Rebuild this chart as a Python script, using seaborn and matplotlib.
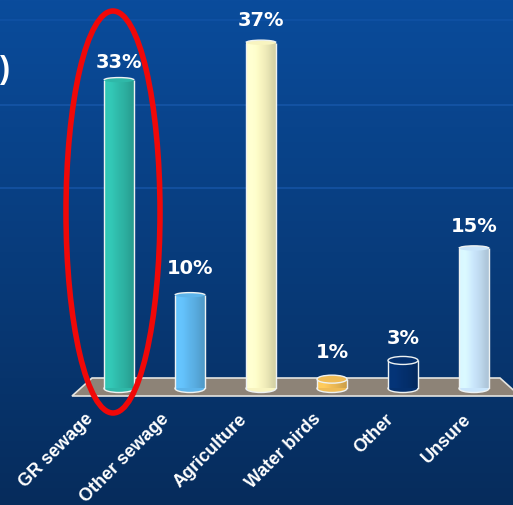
from matplotlib.patches import Arc, Ellipse, Polygon
from matplotlib.transforms import ScaledTranslation
import matplotlib.pyplot as plt
import numpy as np
import pandas as pd
import seaborn as sns

categories = ["GR sewage", "Other sewage", "Agriculture", "Water birds", "Other", "Unsure"]
percent = [33, 10, 37, 1, 3, 15]
bar_colors = ["#2fb8a8", "#5db4ea", "#f8f4c0", "#efbb55", "#04306e", "#c9e5fb"]

W, H = 513, 505
BASE = 388.5    # pixel row of the zero line
PX_PER_PCT = 9.35
FIRST_X, STEP = 119, 71

sns.set_style("white")
plt.rcParams["font.family"] = ["Liberation Sans", "DejaVu Sans"]

fig = plt.figure(figsize=(W / 100, H / 100), dpi=100)

# Background, in pixel coordinates.
bg = fig.add_axes([0, 0, 1, 1], zorder=0)
top = np.array([10, 76, 156]) / 255
bottom = np.array([6, 44, 92]) / 255
t = np.linspace(0, 1, 256)[:, None, None]
bg.imshow(top * (1 - t) + bottom * t, extent=[0, W, H, 0], aspect="auto")
for y, a in [(20, 0.35), (105, 0.6), (188, 0.6)]:
  bg.axhline(y, color="#1f62bb", lw=1.1, alpha=a)
bg.add_patch(Polygon([(72, 396), (92, 378), (500, 378), (520, 396)],
                     facecolor="#8d8377", edgecolor="#e4e4e0", lw=1.2))
bg.text(5, 70, ")", color="white", fontsize=22, fontweight="bold", va="center", ha="center")
bg.set_xlim(0, W)
bg.set_ylim(H, 0)
bg.axis("off")

# Chart proper.
ax = fig.add_axes([0, (H - BASE) / H, 1, BASE / H], zorder=1)
ax.patch.set_alpha(0)
df = pd.DataFrame({"source": categories, "percent": percent})
sns.barplot(data=df, x="source", y="percent", hue="source", order=categories,
            palette=bar_colors, width=30 / STEP, legend=False, saturation=1, ax=ax)

cap = 8 / PX_PER_PCT
edge = "#eef2f2"
shade = np.array([1.08, 1.1, 1.05, 1.0, 0.97, 0.92, 0.86])[None, :, None]
bars = sorted(ax.patches, key=lambda p: p.get_x())
label_offsets = [6, 12, 9, 12, 9, 9]
for bar, color, pct, off in zip(bars, bar_colors, percent, label_offsets):
  x, w, h = bar.get_x(), bar.get_width(), bar.get_height()
  mid = x + w / 2
  rgb = np.array(plt.matplotlib.colors.to_rgb(color))[None, None, :]
  bar.set_alpha(0)
  ax.add_patch(Ellipse((mid, 0), w, cap, facecolor=color, edgecolor=edge,
                       lw=1, zorder=2, clip_on=False))
  ax.imshow(np.clip(rgb * shade, 0, 1), extent=[x, x + w, 0, h], aspect="auto",
            interpolation="bicubic", zorder=3)
  ax.plot([x, x], [0, h], color=edge, lw=1, zorder=4, solid_capstyle="butt")
  ax.plot([x + w, x + w], [0, h], color=edge, lw=1, zorder=4, solid_capstyle="butt")
  if pct < 5:
    # Short cups show the whole rim.
    ax.add_patch(Ellipse((mid, h), w, cap, facecolor=color, edgecolor=edge,
                         lw=1, zorder=5, clip_on=False))
  else:
    flat = cap * 0.6
    ax.add_patch(Ellipse((mid, h), w, flat, facecolor=color, edgecolor="none",
                         zorder=5, clip_on=False))
    ax.add_patch(Arc((mid, h), w, flat, theta1=0, theta2=180, color=edge,
                     lw=1, zorder=5, clip_on=False))
  ax.annotate(f"{pct}%", (mid, h), xytext=(0, off), textcoords="offset points",
              ha="center", va="bottom", color="white", fontsize=14, fontweight="bold",
              family="DejaVu Sans", zorder=6)

ax.set_xlim(-FIRST_X / STEP, (W - FIRST_X) / STEP)
ax.set_ylim(0, BASE / PX_PER_PCT)
ax.set_yticks([])
ax.set_xlabel("")
ax.set_ylabel("")
sns.despine(ax=ax, left=True, bottom=True)
ax.tick_params(axis="x", length=0, pad=16)
ax.set_xticks(range(len(categories)))
ax.set_xticklabels(categories, rotation=45, ha="right", rotation_mode="anchor",
                   color="white", fontsize=13, fontweight="bold")
# Labels sit further right along the axis, as in the perspective of the slide.
for label, shift in zip(ax.get_xticklabels(), [-34, -30, -23, -20, -18, -11]):
  label.set_transform(label.get_transform() + ScaledTranslation(shift / 100, 0, fig.dpi_scale_trans))

# Red hand-drawn emphasis ring over everything.
over = fig.add_axes([0, 0, 1, 1], zorder=2)
over.patch.set_alpha(0)
over.add_patch(Ellipse((113, 212), 94, 402, facecolor="none", edgecolor="#f00808", lw=4))
over.set_xlim(0, W)
over.set_ylim(H, 0)
over.axis("off")

fig.savefig("out.png", dpi=100)
